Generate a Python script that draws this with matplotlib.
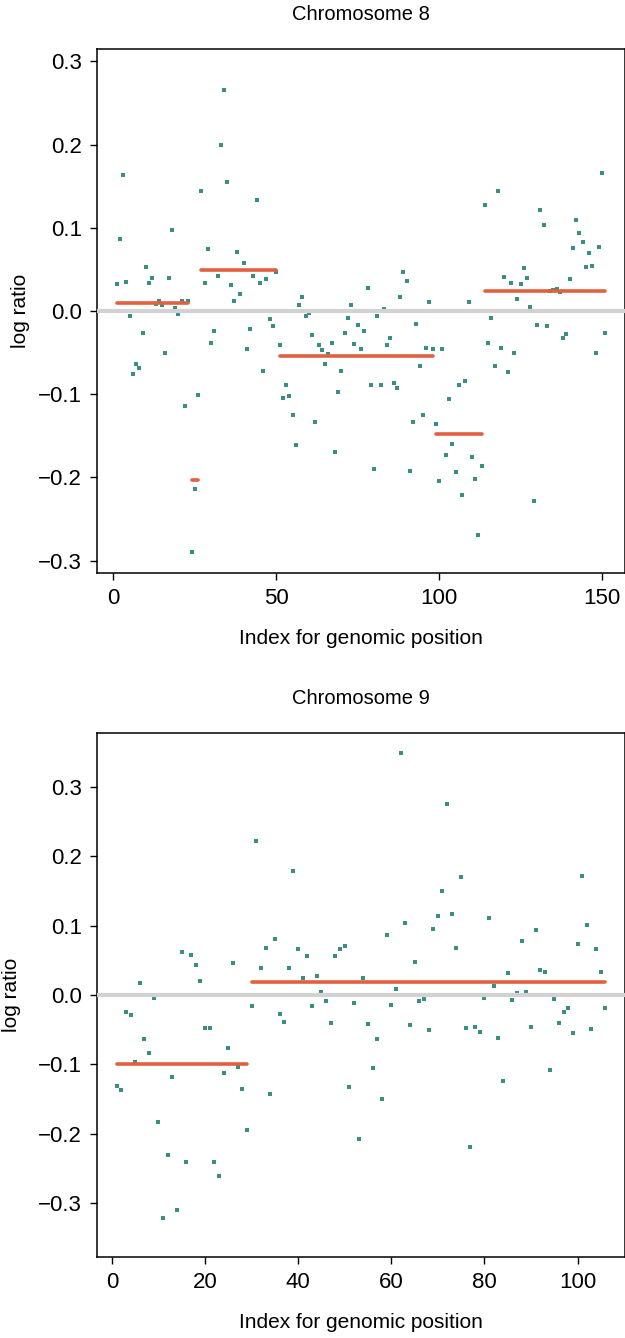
import numpy as np
import matplotlib.pyplot as plt

plt.rcParams['font.family'] = ['Liberation Sans', 'DejaVu Sans']

# Chromosome 8: log ratio for each probe, in genomic order (index 1..151)
chr8_logratio = [
    0.033, 0.086, 0.163, 0.035, -0.006, -0.076, -0.064, -0.068, -0.026, 0.053,
    0.034, 0.040, 0.008, 0.012, 0.007, -0.050, 0.040, 0.097, 0.004, -0.004,
    0.012, -0.114, 0.012, -0.290, -0.214, -0.101, 0.144, 0.034, 0.074, -0.038,
    -0.024, 0.042, 0.200, 0.266, 0.155, 0.031, 0.012, 0.071, 0.020, 0.058,
    -0.046, -0.022, 0.042, 0.134, 0.034, -0.072, 0.038, -0.010, -0.018, 0.047,
    -0.041, -0.104, -0.089, -0.102, -0.125, -0.161, 0.007, 0.017, -0.006, -0.002,
    -0.029, -0.133, -0.041, -0.047, -0.064, -0.052, -0.039, -0.169, -0.097, -0.072,
    -0.026, -0.009, 0.007, -0.040, -0.017, -0.046, -0.024, 0.028, -0.089, -0.190,
    -0.006, -0.089, 0.003, -0.041, -0.032, -0.086, -0.092, 0.017, 0.047, 0.036,
    -0.192, -0.133, -0.016, -0.066, -0.125, -0.044, 0.011, -0.046, -0.136, -0.204,
    -0.046, -0.173, -0.106, -0.160, -0.194, -0.089, -0.221, -0.084, 0.011, -0.176,
    -0.202, -0.269, -0.186, 0.128, -0.038, -0.008, -0.066, 0.144, -0.044, 0.041,
    -0.073, 0.034, -0.050, 0.014, 0.033, 0.052, 0.040, 0.005, -0.228, -0.017,
    0.121, 0.103, -0.018, 0.024, 0.025, 0.026, 0.023, -0.032, -0.028, 0.038,
    0.076, 0.110, 0.094, 0.083, 0.053, 0.070, 0.054, -0.051, 0.077, 0.166,
    -0.026,
]
# piecewise-constant fit: first index, last index, level
chr8_seg_start = [1, 24, 27, 51, 99, 114]
chr8_seg_end = [23, 26, 50, 98, 113, 151]
chr8_seg_level = [0.010, -0.203, 0.049, -0.054, -0.148, 0.024]

# Chromosome 9 (index 1..106)
chr9_logratio = [
    -0.131, -0.137, -0.024, -0.029, -0.097, 0.017, -0.063, -0.083, -0.004, -0.183,
    -0.321, -0.230, -0.118, -0.309, 0.062, -0.241, 0.058, 0.043, 0.020, -0.047,
    -0.047, -0.240, -0.260, -0.112, -0.076, 0.046, -0.103, -0.135, -0.194, -0.016,
    0.222, 0.039, 0.068, -0.142, 0.081, -0.027, -0.039, 0.039, 0.178, 0.066,
    0.024, 0.056, -0.016, 0.027, 0.004, -0.008, -0.040, 0.056, 0.066, 0.071,
    -0.132, -0.012, -0.207, 0.024, -0.042, -0.105, -0.063, -0.150, 0.086, -0.014,
    0.009, 0.348, 0.104, -0.043, 0.047, -0.009, -0.006, -0.050, 0.095, 0.114,
    0.150, 0.275, 0.117, 0.068, 0.170, -0.047, -0.219, -0.046, -0.053, -0.004,
    0.111, 0.013, -0.062, -0.124, 0.032, -0.007, 0.003, 0.078, 0.004, -0.046,
    0.094, 0.036, 0.033, -0.108, -0.006, -0.040, -0.024, -0.019, -0.055, 0.074,
    0.171, 0.101, -0.049, 0.066, 0.033, -0.018,
]
chr9_seg_start = [1, 30]
chr9_seg_end = [29, 106]
chr9_seg_level = [-0.100, 0.018]

POINT_COL = '#3a8f85'
SEG_COL = '#e0603f'
ZERO_COL = '#d2d2d2'

W, H = 625, 1338
fig = plt.figure(figsize=(W / 100, H / 100), dpi=100)


def panel(box, y, starts, ends, levels, title, xticks, ylim, ylab_x):
    left, top, right, bottom = box
    ax = fig.add_axes([left / W, 1 - bottom / H, (right - left) / W, (bottom - top) / H])
    idx = np.arange(1, len(y) + 1)
    n = len(y)
    ax.plot(idx, y, 's', color=POINT_COL, markersize=2.9, markeredgewidth=0, zorder=2)
    ax.axhline(0, color=ZERO_COL, lw=3, zorder=3)
    for s, e, lv in zip(starts, ends, levels):
        ax.plot([s, e], [lv, lv], color=SEG_COL, lw=2.6, solid_capstyle='round', zorder=4)
    pad = 0.04 * (n - 1)
    ax.set_xlim(1 - pad, n + pad)
    ax.set_ylim(*ylim)
    ax.set_xticks(xticks)
    yt = np.round(np.arange(-0.3, 0.31, 0.1), 1)
    ax.set_yticks(yt)
    ax.set_yticklabels([f'{v:.1f}'.replace('-', '\u2212') for v in yt])
    ax.tick_params(direction='out', length=5, width=1, labelsize=16, top=False, right=False)
    ax.tick_params(axis='x', pad=6)
    ax.tick_params(axis='y', pad=6)
    for sp in ax.spines.values():
        sp.set_linewidth(1.1)
    cx = (left + right) / 2 / W
    fig.text(cx, 1 - (top - 34) / H, title, ha='center', va='center', fontsize=14.5)
    fig.text(cx, 1 - (bottom + 65) / H, 'Index for genomic position',
             ha='center', va='center', fontsize=15)
    fig.text(ylab_x / W, 1 - (top + bottom) / 2 / H, 'log ratio', rotation=90,
             ha='center', va='center', fontsize=15)
    return ax


panel((97, 49, 625, 573), chr8_logratio, chr8_seg_start, chr8_seg_end, chr8_seg_level,
      'Chromosome 8', [0, 50, 100, 150], (-0.315, 0.315), 20)
panel((97, 733, 625, 1257), chr9_logratio, chr9_seg_start, chr9_seg_end, chr9_seg_level,
      'Chromosome 9', [0, 20, 40, 60, 80, 100], (-0.377, 0.377), 12)

fig.savefig('out.png', dpi=100)
